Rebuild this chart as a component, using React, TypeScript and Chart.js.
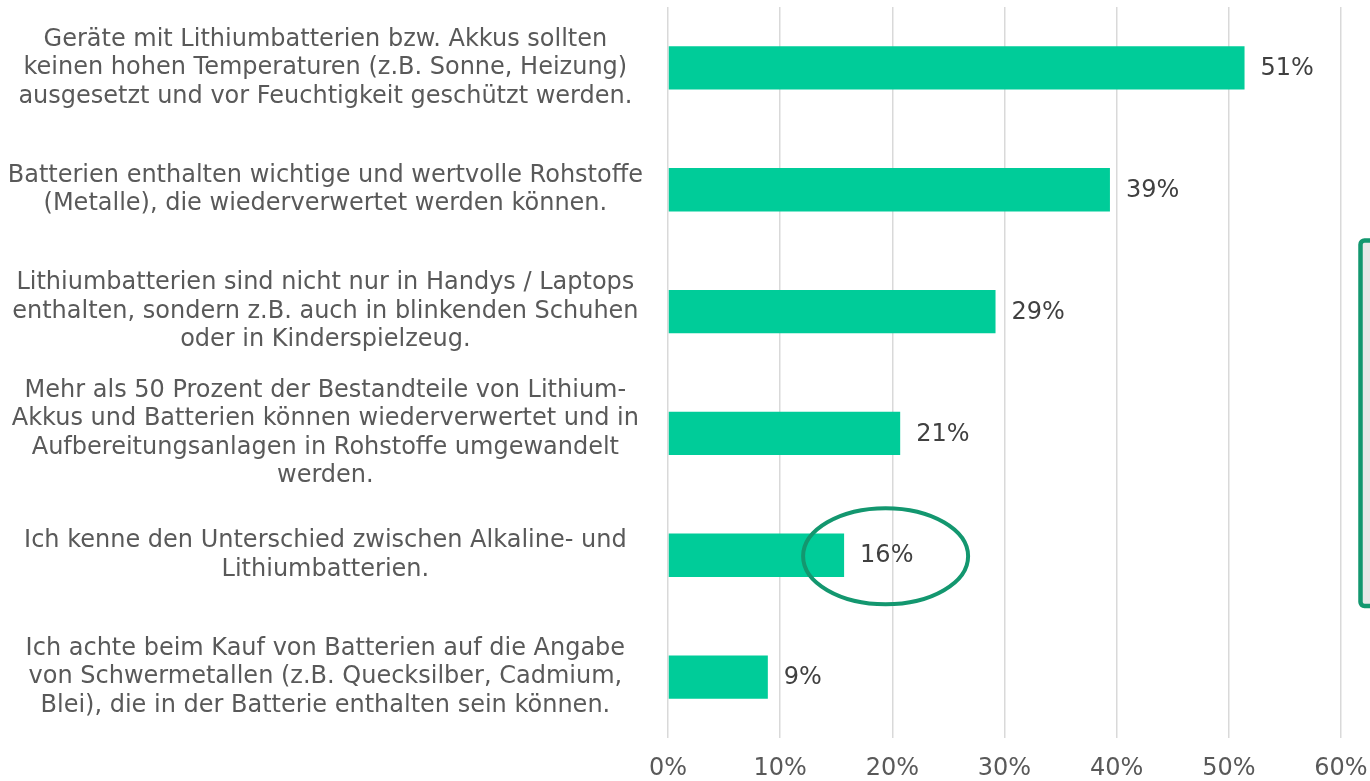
import React, { useEffect, useRef } from "react";
import { Chart, registerables } from "chart.js";

Chart.register(...registerables);

const categories: string[][] = [
  [
    "Geräte mit Lithiumbatterien bzw. Akkus sollten",
    "keinen hohen Temperaturen (z.B. Sonne, Heizung)",
    "ausgesetzt und vor Feuchtigkeit geschützt werden.",
  ],
  [
    "Batterien enthalten wichtige und wertvolle Rohstoffe",
    "(Metalle), die wiederverwertet werden können.",
  ],
  [
    "Lithiumbatterien sind nicht nur in Handys / Laptops",
    "enthalten, sondern z.B. auch in blinkenden Schuhen",
    "oder in Kinderspielzeug.",
  ],
  [
    "Mehr als 50 Prozent der Bestandteile von Lithium-",
    "Akkus und Batterien können wiederverwertet und in",
    "Aufbereitungsanlagen in Rohstoffe umgewandelt",
    "werden.",
  ],
  ["Ich kenne den Unterschied zwischen Alkaline- und", "Lithiumbatterien."],
  [
    "Ich achte beim Kauf von Batterien auf die Angabe",
    "von Schwermetallen (z.B. Quecksilber, Cadmium,",
    "Blei), die in der Batterie enthalten sein können.",
  ],
];

const values: number[] = [51.4, 39.4, 29.2, 20.7, 15.7, 8.9];
const valueLabels: string[] = ["51%", "39%", "29%", "21%", "16%", "9%"];
const xTickMax = 60;
const xTickStep = 10;
const highlightIndex = 4;
const highlightCenterValue = 19.4;

const FONT = "'DejaVu Sans', Verdana, sans-serif";

const dataLabelPlugin = {
  id: "dataLabels",
  afterDatasetsDraw(chart: any) {
    const ctx = chart.ctx;
    const meta = chart.getDatasetMeta(0);
    ctx.save();
    ctx.font = `24px ${FONT}`;
    ctx.fillStyle = "#404040";
    ctx.textAlign = "left";
    ctx.textBaseline = "middle";
    meta.data.forEach((bar: any, i: number) => {
      ctx.fillText(valueLabels[i], bar.x + 16, bar.y + 1);
    });
    ctx.restore();
  },
};

const annotationPlugin = {
  id: "annotations",
  afterDraw(chart: any) {
    const ctx = chart.ctx;
    const xs = chart.scales.x;
    const ys = chart.scales.y;
    ctx.save();
    // ellipse around highlighted label
    const cx = xs.getPixelForValue(highlightCenterValue);
    const cy = ys.getPixelForValue(highlightIndex) + 1;
    ctx.beginPath();
    ctx.ellipse(cx, cy, 82.5, 48, 0, 0, Math.PI * 2);
    ctx.lineWidth = 4;
    ctx.strokeStyle = "#13976F";
    ctx.stroke();
    // partially visible box at right edge
    const left = chart.width - 9.5;
    const top = 240.5;
    const bottom = 606;
    ctx.beginPath();
    ctx.roundRect(left, top, 60, bottom - top, 4);
    ctx.fillStyle = "#E8E8E8";
    ctx.fill();
    ctx.lineWidth = 4.5;
    ctx.strokeStyle = "#13976F";
    ctx.stroke();
    ctx.restore();
  },
};

export default function App() {
  const canvasRef = useRef<HTMLCanvasElement | null>(null);

  useEffect(() => {
    document.body.style.margin = "0";
    document.body.style.overflow = "hidden";
    if (!canvasRef.current) return;
    const chart = new Chart(canvasRef.current, {
      type: "bar",
      data: {
        labels: categories,
        datasets: [
          {
            data: values,
            backgroundColor: "#00CC99",
            borderWidth: 0,
            barPercentage: 0.355,
            categoryPercentage: 1,
          },
        ],
      },
      options: {
        indexAxis: "y",
        animation: false,
        responsive: true,
        maintainAspectRatio: false,
        layout: { padding: { top: 7, right: 29, bottom: 0, left: 0 } },
        plugins: {
          legend: { display: false },
          tooltip: { enabled: false },
        },
        scales: {
          x: {
            min: 0,
            max: xTickMax,
            grid: {
              color: "#D9D9D9",
              lineWidth: 1.5,
              drawTicks: false,
            },
            border: { display: false },
            ticks: {
              stepSize: xTickStep,
              padding: 16,
              color: "#595959",
              font: { family: FONT, size: 24 },
              maxRotation: 0,
              callback: (v: any) => `${v}%`,
            },
            afterFit(scale: any) {
              scale.height = 43;
              scale.paddingLeft = 0;
              scale.paddingRight = 0;
            },
          },
          y: {
            grid: { display: false, drawTicks: false },
            border: { display: false },
            ticks: {
              crossAlign: "center",
              padding: 25,
              color: "#595959",
              font: { family: FONT, size: 24, lineHeight: 1.19 },
            },
            afterFit(scale: any) {
              scale.width = 668;
              scale.paddingTop = 0;
              scale.paddingBottom = 0;
            },
          },
        },
      },
      plugins: [dataLabelPlugin, annotationPlugin],
    } as any);
    return () => chart.destroy();
  }, []);

  return (
    <div style={{ width: 1370, height: 781, position: "relative" }}>
      <canvas ref={canvasRef} />
    </div>
  );
}
